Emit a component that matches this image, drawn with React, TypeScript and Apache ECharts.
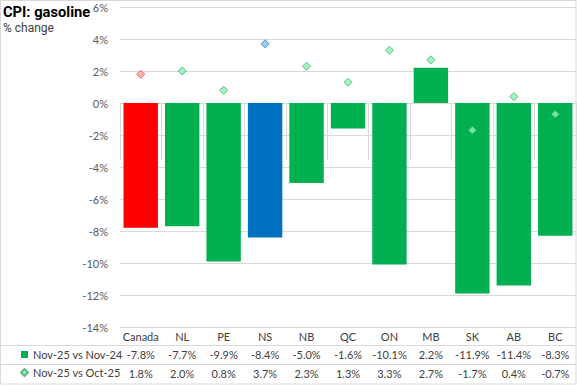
import React, { useEffect, useRef } from "react";
import * as echarts from "echarts";

const categories = ["Canada", "NL", "PE", "NS", "NB", "QC", "ON", "MB", "SK", "AB", "BC"];
const yearlyChange = [-7.8, -7.7, -9.9, -8.4, -5.0, -1.6, -10.1, 2.2, -11.9, -11.4, -8.3];
const monthlyChange = [1.8, 2.0, 0.8, 3.7, 2.3, 1.3, 3.3, 2.7, -1.7, 0.4, -0.7];
const seriesNames = ["Nov-25 vs Nov-24", "Nov-25 vs Oct-25"];

const GREEN = "#00B050";
const RED = "#FF0000";
const BLUE = "#0070C0";
const GRID_COLOR = "#D9D9D9";
const TEXT_COLOR = "#404040";
const FONT = "Lato";

const barColor = (c: string) => (c === "Canada" ? RED : c === "NS" ? BLUE : GREEN);
const diamondStyle = (c: string) =>
  c === "Canada"
    ? { color: "#FF9F9F", borderColor: "#E0474C", borderWidth: 1 }
    : c === "NS"
    ? { color: "#7CC3F8", borderColor: "#2E75B6", borderWidth: 1 }
    : { color: "#8CF2B4", borderColor: "#3DAA66", borderWidth: 1 };

const fmt = (v: number) => v.toFixed(1) + "%";

export default function App() {
  const ref = useRef<HTMLDivElement>(null);
  useEffect(() => {
    document.body.style.margin = "0";
    if (!ref.current) return;
    const chart = echarts.init(ref.current, null, { renderer: "svg" });
    const W = 577;
    const H = 385;
    const gridLeft = 120;
    const gridRight = 576;
    const gridTop = 7;
    const gridBottom = 327;
    const row1 = 345;
    const row2 = 364;
    const tableBottom = 384;

    const valueAxis = (labelMargin: number, values: number[] | null) => ({
      type: "category",
      data: categories,
      gridIndex: 0,
      position: "bottom",
      axisLine: { show: values === null, lineStyle: { color: GRID_COLOR } },
      axisTick: {
        show: values === null,
        interval: 0,
        length: tableBottom - gridBottom,
        lineStyle: { color: GRID_COLOR },
      },
      splitLine: { show: false },
      axisLabel: {
        interval: 0,
        margin: labelMargin,
        color: TEXT_COLOR,
        fontFamily: FONT,
        fontSize: 11,
        formatter: values === null ? undefined : (_v: string, i: number) => fmt(values[i]),
      },
    });

    chart.setOption({
      animation: false,
      backgroundColor: "#FFFFFF",
      grid: {
        left: gridLeft,
        top: gridTop,
        width: gridRight - gridLeft,
        height: gridBottom - gridTop,
        containLabel: false,
      },
      xAxis: [
        valueAxis(4, null),
        valueAxis(22, yearlyChange),
        valueAxis(41, monthlyChange),
      ],
      yAxis: {
        type: "value",
        min: -14,
        max: 6,
        interval: 2,
        axisLine: { show: false },
        axisTick: { show: false },
        splitLine: { lineStyle: { color: GRID_COLOR, width: 1 } },
        axisLabel: {
          formatter: "{value}%",
          color: "#595959",
          fontFamily: FONT,
          fontSize: 11,
          margin: 12,
        },
      },
      legend: {
        orient: "vertical",
        left: 20,
        top: 349,
        itemWidth: 7,
        itemHeight: 7,
        itemGap: 7,
        padding: 0,
        textStyle: { color: TEXT_COLOR, fontFamily: FONT, fontSize: 11, padding: [0, 0, 0, 0] },
        data: [
          { name: seriesNames[0], icon: "rect" },
          { name: seriesNames[1], icon: "diamond" },
        ],
      },
      series: [
        {
          name: seriesNames[0],
          type: "bar",
          xAxisIndex: 0,
          barCategoryGap: "17%",
          itemStyle: { color: GREEN },
          data: yearlyChange.map((v, i) => ({
            value: v,
            itemStyle: { color: barColor(categories[i]) },
          })),
        },
        {
          name: seriesNames[1],
          type: "scatter",
          xAxisIndex: 0,
          symbol: "diamond",
          symbolSize: 8,
          itemStyle: diamondStyle("NL"),
          data: monthlyChange.map((v, i) => ({
            value: v,
            itemStyle: diamondStyle(categories[i]),
          })),
          z: 5,
        },
      ],
      graphic: [
        {
          type: "rect",
          shape: { x: 0.5, y: 0.5, width: W - 1.5, height: H - 1.5 },
          style: { fill: "none", stroke: GRID_COLOR, lineWidth: 1 },
          silent: true,
        },
        {
          type: "line",
          shape: { x1: 0, y1: row1 + 0.5, x2: gridRight, y2: row1 + 0.5 },
          style: { stroke: GRID_COLOR, lineWidth: 1 },
          silent: true,
        },
        {
          type: "line",
          shape: { x1: 0, y1: row2 + 0.5, x2: gridRight, y2: row2 + 0.5 },
          style: { stroke: GRID_COLOR, lineWidth: 1 },
          silent: true,
        },
        {
          type: "text",
          left: 3,
          top: 4,
          style: {
            text: "CPI: gasoline",
            fill: "#000000",
            font: "bold 14.7px Roboto",
          },
        },
        {
          type: "text",
          left: 3,
          top: 22,
          style: {
            text: "% change",
            fill: "#404040",
            font: "12px Roboto",
          },
        },
      ],
    });
    return () => chart.dispose();
  }, []);
  return <div ref={ref} style={{ width: 577, height: 385 }} />;
}
